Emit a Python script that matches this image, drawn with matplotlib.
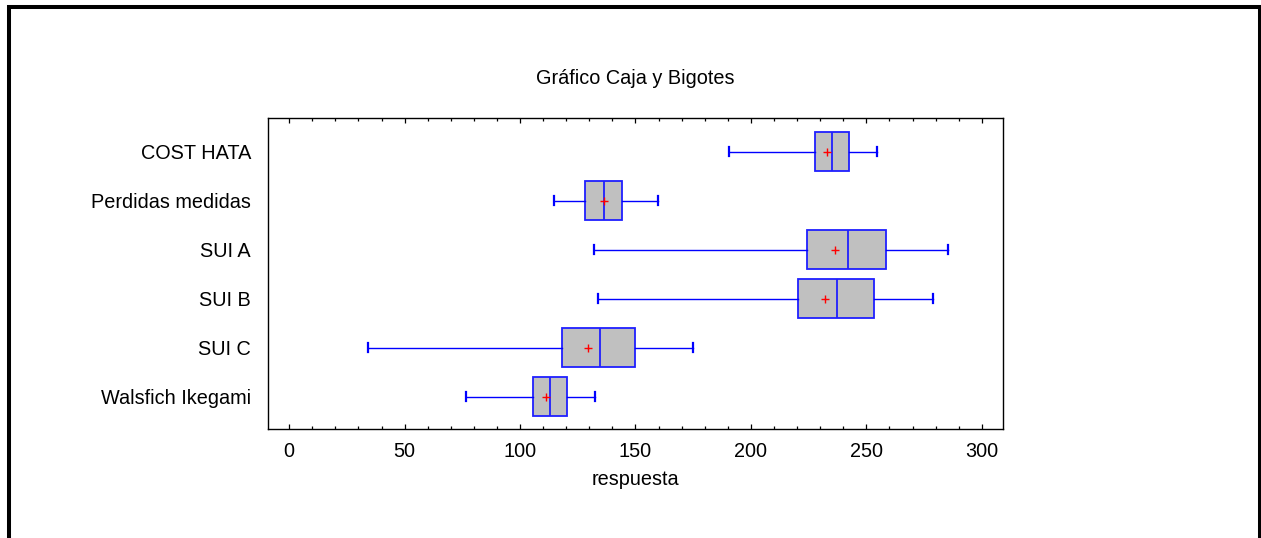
import matplotlib
matplotlib.use("Agg")
import matplotlib.pyplot as plt
from matplotlib.patches import Rectangle
from matplotlib.ticker import MultipleLocator

plt.rcParams["font.family"] = ["Liberation Sans", "DejaVu Sans"]

# resumen de cada grupo (de arriba hacia abajo)
grupos = ["COST HATA", "Perdidas medidas", "SUI A", "SUI B", "SUI C", "Walsfich Ikegami"]
bigote_inf = [190.4, 114.6, 132.2, 133.6, 34.1, 76.7]
cuartil_1 = [227.9, 128.3, 224.2, 220.5, 118.3, 105.7]
mediana = [235.3, 136.2, 241.9, 237.3, 134.6, 113.1]
cuartil_3 = [242.4, 144.3, 258.5, 253.5, 149.8, 120.2]
bigote_sup = [254.8, 159.9, 285.4, 278.8, 174.8, 132.6]
media = [233.1, 136.5, 236.4, 232.2, 129.6, 111.2]

stats = []
for i, g in enumerate(grupos):
    stats.append(dict(label=g, whislo=bigote_inf[i], q1=cuartil_1[i], med=mediana[i],
                      q3=cuartil_3[i], whishi=bigote_sup[i], mean=media[i], fliers=[]))

fig = plt.figure(figsize=(12.61, 5.38), dpi=100)
ax = fig.add_axes([0.2125, 0.2026, 0.5829, 0.5781])

posiciones = list(range(len(grupos) - 1, -1, -1))
azul = "#1f1fff"
ax.bxp(stats, positions=posiciones, widths=0.8, capwidths=0.19,
       orientation="horizontal", patch_artist=True, showmeans=True,
       boxprops=dict(facecolor="#c0c0c0", edgecolor=azul, linewidth=1.3),
       medianprops=dict(color=azul, linewidth=1.3),
       whiskerprops=dict(color="blue", linewidth=1.0),
       capprops=dict(color="blue", linewidth=1.6),
       meanprops=dict(marker="+", markeredgecolor="red", markersize=6,
                      markeredgewidth=1.0))

ax.set_xlim(-9.2, 309.2)
ax.set_ylim(-0.66, 5.69)
ax.set_yticks(posiciones)
ax.set_yticklabels(grupos)
ax.xaxis.set_major_locator(MultipleLocator(50))
ax.xaxis.set_minor_locator(MultipleLocator(10))
ax.tick_params(axis="x", which="both", direction="in", top=True, bottom=True,
               labelsize=14.3, pad=9.5, width=0.9)
ax.tick_params(axis="x", which="major", length=3.8)
ax.tick_params(axis="x", which="minor", length=2.4)
ax.tick_params(axis="y", length=0, labelsize=14.3, pad=12.3)
for s in ax.spines.values():
    s.set_linewidth(1.0)

ax.set_title("Gráfico Caja y Bigotes", fontsize=14.3, pad=24.3)
ax.set_xlabel("respuesta", fontsize=14.3, labelpad=6)

# marco negro del gráfico
fig.patches.append(Rectangle((8.5 / 1261, -0.2), 1251 / 1261, 1.2 - 7 / 538,
                             transform=fig.transFigure, fill=False,
                             edgecolor="black", linewidth=2.9))

fig.savefig("out.png", dpi=100)
